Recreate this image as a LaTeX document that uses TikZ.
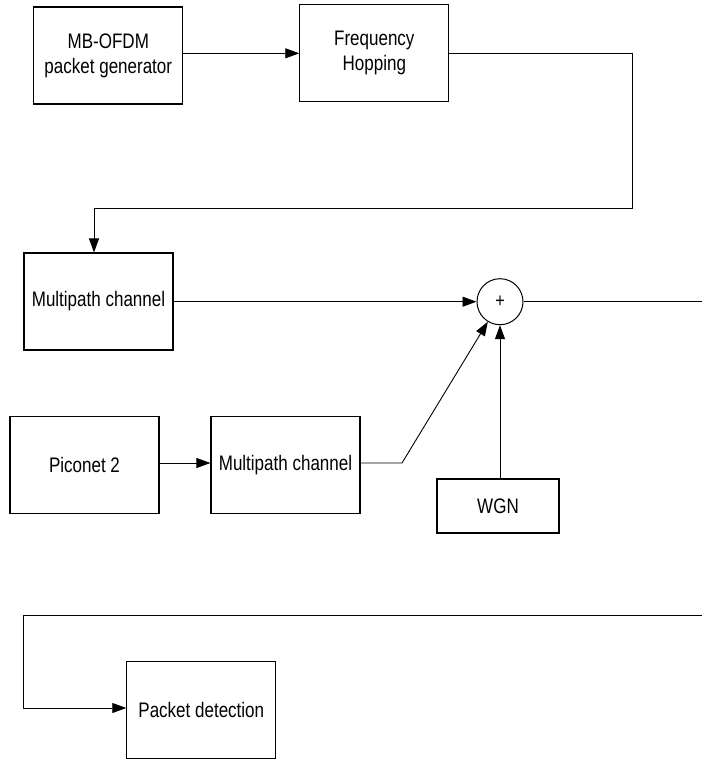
\documentclass[tikz,border=0pt]{standalone}
\usepackage{fontspec}
\setmainfont{Liberation Sans}[FakeStretch=0.81]
\usetikzlibrary{arrows.meta,calc}
\begin{document}
\begin{tikzpicture}[x=1pt,y=-1pt,
  blk/.style={draw,line width=1.1pt,minimum width=149pt,minimum height=97pt,inner sep=0pt,align=center,font=\fontsize{21}{25}\selectfont},
  sumnode/.style={draw,circle,line width=1pt,minimum size=46pt,inner sep=0pt,font=\fontsize{20}{20}\selectfont},
  conn/.style={line width=0.9pt},
  arr/.style={conn,-{Triangle[length=14pt,width=10pt]}}]
\useasboundingbox (0,0) rectangle (702,761);
\node[blk] (gen) at (108.3,55.5) {MB-OFDM\\packet generator};
\node[blk] (fh) at (374.3,53.3) {Frequency\\Hopping};
\node[blk] (mc1) at (98.5,301.5) {Multipath channel};
\node[sumnode] (sum) at (500,301.7) {+};
\node[blk] (pico) at (84.5,465) {Piconet 2};
\node[blk] (mc2) at (285.5,465) {Multipath channel};
\node[blk,minimum width=122pt,minimum height=54pt] (wgn) at (498,506) {WGN};
\node[blk] (pd) at (201.3,710.3) {Packet detection};
\coordinate (c1) at (632,53.3);
\coordinate (c2) at (632,208);
\coordinate (c3) at (94,208);
\coordinate (out1) at (702,301.7);
\coordinate (knee) at (402,463);
\coordinate (in2) at (702,615);
\coordinate (c4) at (23.7,615);
\coordinate (c5) at (23.7,708);
\draw[arr] (gen.east |- fh.west) -- (fh.west);
\draw[arr] (fh.east) -- (c1) -- (c2) -- (c3) -- (c3 |- mc1.north);
\draw[arr] (mc1.east |- sum.west) -- (sum.west);
\draw[conn] (sum.east) -- (out1);
\draw[arr] (pico.east |- knee) -- (mc2.west |- knee);
\draw[arr] (mc2.east |- knee) -- (knee) -- (sum);
\draw[arr] (wgn.north -| sum) -- (sum.south);
\draw[arr] (in2) -- (c4) -- (c5) -- (pd.west |- c5);
\end{tikzpicture}
\end{document}
